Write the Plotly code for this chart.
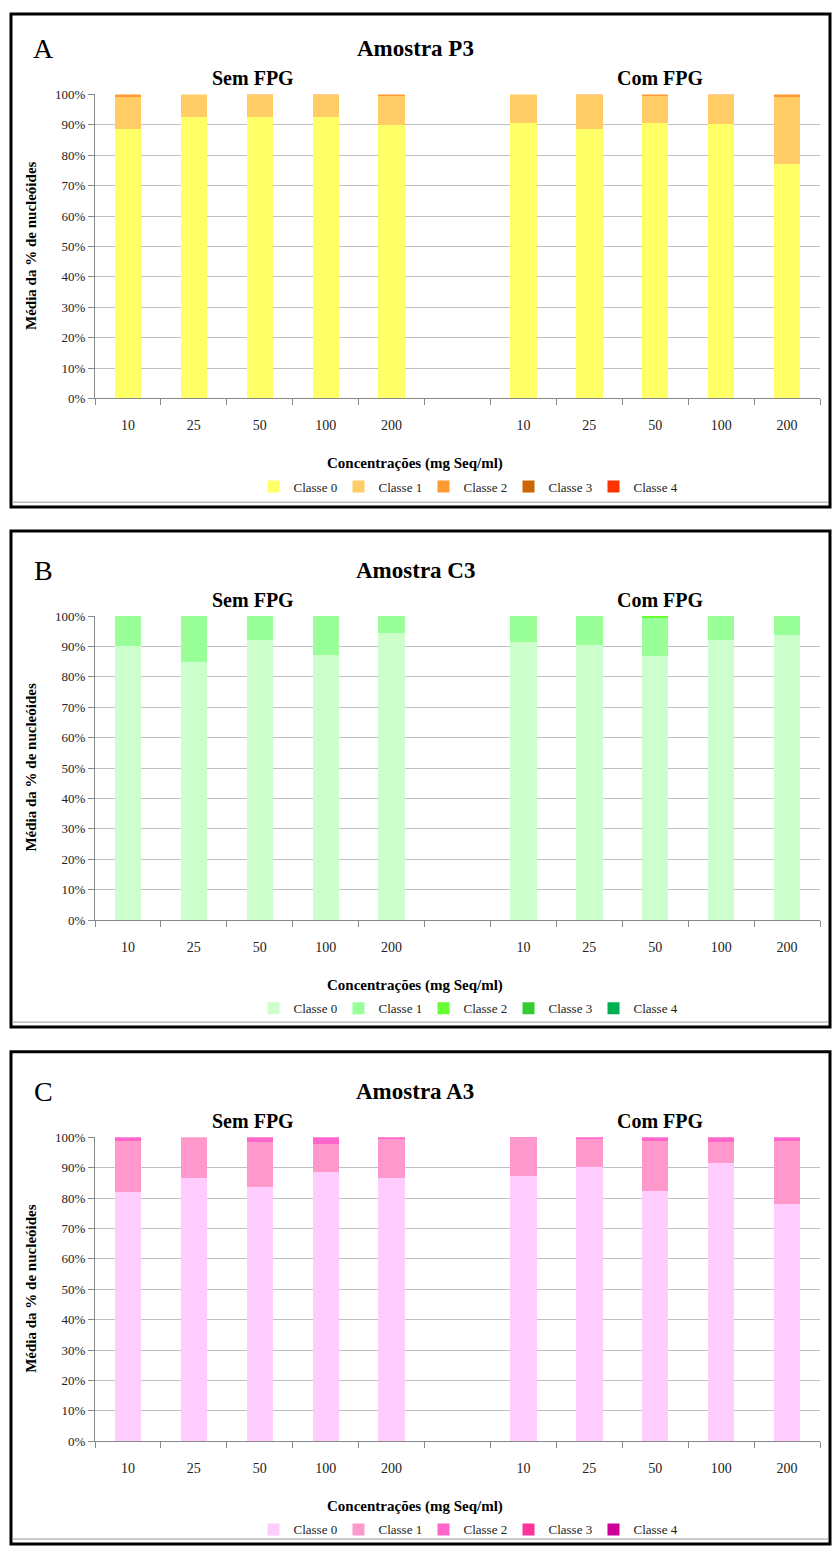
import plotly.graph_objects as go

W, H = 832, 1553

# ---------------- data ----------------
categories = ["10", "25", "50", "100", "200", " ", "10 ", "25 ", "50 ", "100 ", "200 "]
tick_labels = ["10", "25", "50", "100", "200", "", "10", "25", "50", "100", "200"]
class_names = ["Classe 0", "Classe 1", "Classe 2", "Classe 3", "Classe 4"]

# Panel A - Amostra P3  (Sem FPG x5, gap, Com FPG x5)
p3_c0 = [88.6, 92.6, 92.6, 92.6, 90.1, None, 90.6, 88.6, 90.6, 90.4, 77.0]
p3_c1 = [10.7, 7.4, 7.2, 7.2, 9.3, None, 9.4, 11.2, 8.8, 9.4, 22.3]
p3_c2 = [0.7, 0.0, 0.2, 0.2, 0.6, None, 0.0, 0.2, 0.6, 0.2, 0.7]
p3_c3 = [0, 0, 0, 0, 0, None, 0, 0, 0, 0, 0]
p3_c4 = [0, 0, 0, 0, 0, None, 0, 0, 0, 0, 0]

# Panel B - Amostra C3
c3_c0 = [90.0, 84.8, 92.2, 87.3, 94.5, None, 91.5, 90.6, 86.8, 92.2, 93.9]
c3_c1 = [10.0, 15.2, 7.8, 12.7, 5.5, None, 8.5, 9.4, 12.5, 7.8, 6.1]
c3_c2 = [0, 0, 0, 0, 0, None, 0, 0, 0.7, 0, 0]
c3_c3 = [0, 0, 0, 0, 0, None, 0, 0, 0, 0, 0]
c3_c4 = [0, 0, 0, 0, 0, None, 0, 0, 0, 0, 0]

# Panel C - Amostra A3
a3_c0 = [82.1, 86.7, 83.5, 88.7, 86.7, None, 87.3, 90.1, 82.4, 91.5, 78.0]
a3_c1 = [16.7, 13.3, 15.0, 9.1, 12.9, None, 12.4, 9.5, 16.4, 7.0, 20.8]
a3_c2 = [1.2, 0.0, 1.5, 2.2, 0.4, None, 0.3, 0.4, 1.2, 1.5, 1.2]
a3_c3 = [0, 0, 0, 0, 0, None, 0, 0, 0, 0, 0]
a3_c4 = [0, 0, 0, 0, 0, None, 0, 0, 0, 0, 0]

panel_letters = ["A", "B", "C"]
panel_titles = ["Amostra P3", "Amostra C3", "Amostra A3"]
group_labels = ["Sem FPG", "Com FPG"]
x_title = "Concentrações (mg Seq/ml)"
y_title = "Média da % de nucleóides"

colors_A = ["#FFFF66", "#FFCC66", "#FF9933", "#CC6600", "#FF3300"]
colors_B = ["#CCFFCC", "#99FF99", "#66FF33", "#33CC33", "#00B050"]
colors_C = ["#FFCCFF", "#FF99CC", "#FF66CC", "#FF3399", "#CC0099"]

panels = [
    ([p3_c0, p3_c1, p3_c2, p3_c3, p3_c4], colors_A),
    ([c3_c0, c3_c1, c3_c2, c3_c3, c3_c4], colors_B),
    ([a3_c0, a3_c1, a3_c2, a3_c3, a3_c4], colors_C),
]

# ---------------- layout geometry (pixels) ----------------
def px(x):
    return x / W

def py(y):
    return 1 - y / H

plot_left, plot_right = 95, 820
tops = [88.3, 615.0, 1141.3]
plot_h = 307.0
panel_step = 526.5
frame_tops = [7, 529, 1055]
frame_bottoms = [505, 1030, 1552]

SERIF = "Liberation Serif, Times New Roman, serif"
fig = go.Figure()

for i, (series, cols) in enumerate(panels):
    ax = "" if i == 0 else str(i + 1)
    leg = "legend" if i == 0 else f"legend{i + 1}"
    for k, (vals, col) in enumerate(zip(series, cols)):
        fig.add_trace(go.Bar(
            x=categories, y=vals, name=class_names[k],
            marker=dict(color=col, line=dict(width=0)),
            xaxis="x" + ax, yaxis="y" + ax, legend=leg,
            hoverinfo="x+y+name",
        ))

layout = dict(
    width=W, height=H, barmode="stack", bargap=0.6,
    margin=dict(l=0, r=0, t=0, b=0),
    plot_bgcolor="white", paper_bgcolor="white",
    font=dict(family=SERIF, size=13, color="#222"),
)
annotations = []
shapes = []

for i in range(3):
    ax = "" if i == 0 else str(i + 1)
    top = tops[i]
    bottom = top + plot_h
    layout["xaxis" + ax] = dict(
        domain=[px(plot_left), px(plot_right)],
        anchor="y" + ax, type="category",
        categoryorder="array", categoryarray=categories,
        tickmode="array", tickvals=categories, ticktext=tick_labels,
        tickson="boundaries", ticks="outside", ticklen=6, tickcolor="#888",
        ticklabelstandoff=14,
        showline=True, linecolor="#888", linewidth=1,
        showgrid=False, range=[-0.5, 10.5],
        tickfont=dict(family=SERIF, size=14, color="#222"),
        fixedrange=True,
    )
    layout["yaxis" + ax] = dict(
        domain=[py(bottom), py(top)],
        anchor="x" + ax, range=[0, 100], dtick=10,
        ticksuffix="%", ticks="outside", ticklen=6, tickcolor="#888",
        showline=True, linecolor="#888", linewidth=1,
        showgrid=True, gridcolor="#BFBFBF", gridwidth=1.2,
        zeroline=False,
        tickfont=dict(family=SERIF, size=13, color="#222"),
        fixedrange=True,
    )
    leg = "legend" if i == 0 else f"legend{i + 1}"
    layout[leg] = dict(
        orientation="h", x=px(466), xanchor="center",
        y=py(top + 396), yanchor="middle",
        font=dict(family=SERIF, size=13, color="#222"),
        itemwidth=30, entrywidth=40, entrywidthmode="pixels",
        tracegroupgap=0, bgcolor="rgba(0,0,0,0)",
        traceorder="normal",
    )
    off = i * panel_step
    annotations += [
        dict(text=panel_letters[i], x=px(43), y=py(42 + off), xref="paper", yref="paper",
             showarrow=False, xanchor="center", yanchor="middle",
             font=dict(family=SERIF, size=28, color="#000")),
        dict(text="<b>" + panel_titles[i] + "</b>", x=px(415), y=py(42 + off), xref="paper",
             yref="paper", showarrow=False, xanchor="center", yanchor="middle",
             font=dict(family=SERIF, size=23, color="#000")),
        dict(text="<b>" + group_labels[0] + "</b>", x=px(253), y=py(72 + off), xref="paper",
             yref="paper", showarrow=False, xanchor="center", yanchor="middle",
             font=dict(family=SERIF, size=20, color="#000")),
        dict(text="<b>" + group_labels[1] + "</b>", x=px(660), y=py(72 + off), xref="paper",
             yref="paper", showarrow=False, xanchor="center", yanchor="middle",
             font=dict(family=SERIF, size=20, color="#000")),
        dict(text="<b>" + x_title + "</b>", x=px(415), y=py(top + 373), xref="paper",
             yref="paper", showarrow=False, xanchor="center", yanchor="middle",
             font=dict(family=SERIF, size=15, color="#000")),
        dict(text="<b>" + y_title + "</b>", x=px(31), y=py(top + 153), xref="paper",
             yref="paper", showarrow=False, xanchor="center", yanchor="middle",
             textangle=-90, font=dict(family=SERIF, size=15, color="#000")),
    ]
    shapes += [
        dict(type="rect", xref="paper", yref="paper",
             x0=px(11), x1=px(830), y0=py(frame_bottoms[i]), y1=py(frame_tops[i]),
             line=dict(color="#000", width=3), fillcolor="rgba(0,0,0,0)", layer="above"),
        dict(type="line", xref="paper", yref="paper",
             x0=px(12), x1=px(829), y0=py(frame_bottoms[i] - 5), y1=py(frame_bottoms[i] - 5),
             line=dict(color="#999", width=1), layer="above"),
    ]

layout["annotations"] = annotations
layout["shapes"] = shapes
fig.update_layout(**layout)

fig.write_html("out.html")
